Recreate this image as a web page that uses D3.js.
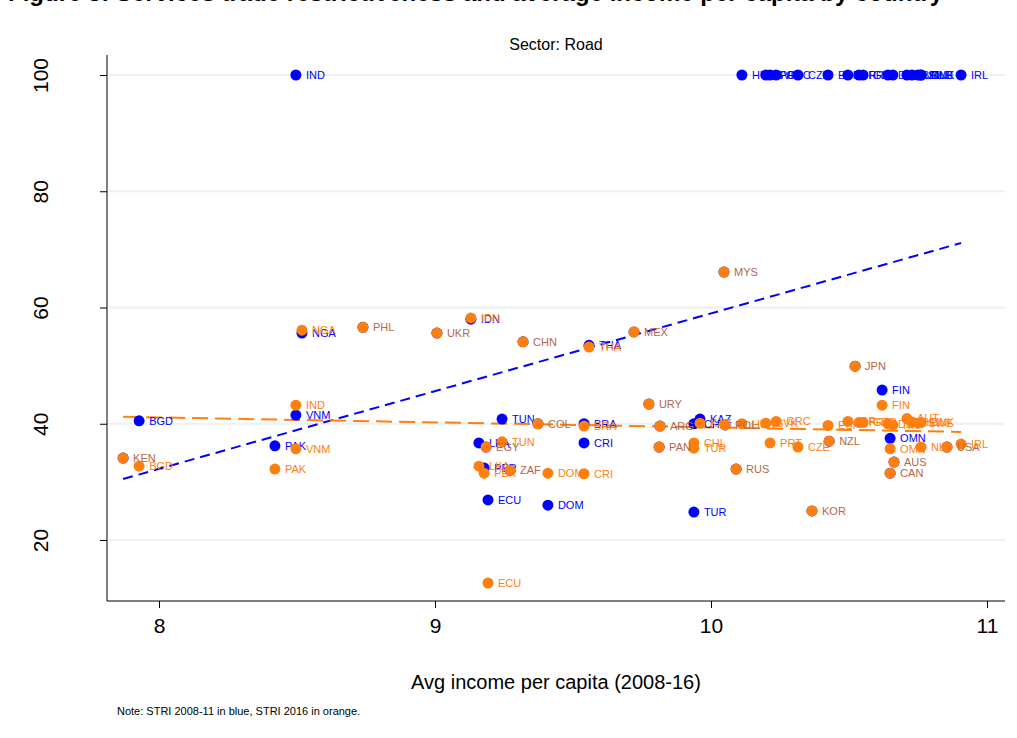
<!DOCTYPE html>
<html>
<head>
<meta charset="utf-8">
<script src="https://d3js.org/d3.v7.min.js"></script>
<style>
  body { margin: 0; background: #fff; }
  text { font-family: "Liberation Sans", Arial, sans-serif; }
</style>
</head>
<body>
<svg width="1017" height="738"></svg>
<script>
// country codes, avg log income (2008-16), STRI 2008-11, STRI 2016
var countries = ["KEN","BGD","PAK","VNM","IND","NGA","PHL","UKR","IDN","CHN","THA","MEX","MYS",
  "LKA","EGY","TUN","COL","BRA","CRI","PER","ZAF","DOM","ECU","URY","ARG","PAN","KAZ","CHL","TUR",
  "POL","HUN","SVK","PRT","GRC","CZE","RUS","KOR","NZL","ESP","ISR","FRA","GBR","JPN","FIN","OMN",
  "AUS","CAN","DEU","ITA","AUT","BEL","SWE","DNK","NLD","USA","IRL"];
var income = [7.870,7.928,8.420,8.496,8.496,8.518,8.739,9.007,9.130,9.319,9.558,9.721,10.047,
  9.159,9.185,9.243,9.373,9.540,9.540,9.178,9.272,9.409,9.192,9.775,9.815,9.812,9.960,9.938,9.938,
  10.051,10.112,10.199,10.214,10.236,10.315,10.091,10.366,10.428,10.424,10.496,10.536,10.551,10.522,10.620,10.649,
  10.663,10.649,10.641,10.659,10.710,10.728,10.750,10.761,10.761,10.855,10.906];
var stri2011 = [34.1,40.5,36.2,41.5,100,55.6,56.6,55.6,58.0,54.1,53.5,55.8,66.1,
  36.7,36.0,40.8,40.0,40.0,36.7,32.4,32.0,26.0,26.9,43.4,39.6,36.0,40.8,40.0,24.8,
  39.8,100,100,100,100,100,32.2,25.0,37.0,100,100,100,100,49.9,45.8,37.5,
  33.4,31.5,100,100,100,100,100,100,100,36.0,100];
var stri2016 = [34.1,32.7,32.2,35.7,43.2,56.1,56.6,55.6,58.2,54.1,53.2,55.8,66.1,
  32.7,36.0,36.9,40.0,39.6,31.4,31.5,32.0,31.5,12.6,43.4,39.6,36.0,40.1,36.7,35.8,
  39.8,40.0,40.1,36.7,40.4,36.0,32.2,25.0,37.0,39.7,40.4,40.2,40.2,49.9,43.2,35.7,
  33.4,31.5,40.0,39.8,40.9,40.3,40.1,40.2,36.0,36.0,36.5];
// fitted lines (endpoints)
var fitX = [7.87, 10.906];
var fit2011 = [30.5, 71.1];
var fit2016 = [41.2, 38.6];
var yTicks = [20, 40, 60, 80, 100];
var xTicks = [8, 9, 10, 11];

var blue = "#0000ff", orange = "#ff7f0e", both = "#b5654a";
var svg = d3.select("svg");
var x = d3.scaleLinear().domain([8, 11]).range([159, 987]);
var y = d3.scaleLinear().domain([20, 100]).range([540, 75]);

// title (cut off at top)
svg.append("text").attr("x", 8).attr("y", 1).attr("font-size", 24).attr("font-weight", "bold")
  .text("Figure 5: Services trade restrictiveness and average income per capita by country");

svg.append("text").attr("x", 556).attr("y", 50).attr("text-anchor", "middle").attr("font-size", 16)
  .text("Sector: Road");

// grid
svg.selectAll(".grid").data(yTicks).enter().append("line")
  .attr("x1", 108).attr("x2", 1005).attr("y1", y).attr("y2", y)
  .attr("stroke", "#eaf2f3").attr("stroke-width", 2);

// axes
var yAxis = svg.append("g").attr("transform", "translate(107,0)")
  .call(d3.axisLeft(y).tickValues(yTicks).tickSize(7));
yAxis.select(".domain").attr("d", "M0,55V601");
yAxis.selectAll(".tick text").each(function() {
  d3.select(this).attr("font-size", 21).attr("text-anchor", "middle")
    .attr("x", -66).attr("y", 0).attr("dy", "0.35em")
    .attr("transform", "rotate(-90,-66,0)");
});
var xAxis = svg.append("g").attr("transform", "translate(0,601)")
  .call(d3.axisBottom(x).tickValues(xTicks).tickFormat(d3.format("d")).tickSize(7).tickPadding(10));
xAxis.select(".domain").attr("d", "M107,0H1005");
xAxis.selectAll("text").attr("font-size", 21);
svg.selectAll(".domain, .tick line").attr("stroke", "#000");

// fit lines
var line = d3.line().x(function(d) { return x(d[0]); }).y(function(d) { return y(d[1]); });
svg.append("path").attr("d", line(d3.zip(fitX, fit2011))).attr("fill", "none")
  .attr("stroke", blue).attr("stroke-width", 2).attr("stroke-dasharray", "10,6");
svg.append("path").attr("d", line(d3.zip(fitX, fit2016))).attr("fill", "none")
  .attr("stroke", orange).attr("stroke-width", 2).attr("stroke-dasharray", "16,7");

var data = countries.map(function(c, i) {
  return { c: c, x: income[i], b: stri2011[i], o: stri2016[i], same: Math.abs(stri2011[i] - stri2016[i]) < 0.05 };
});

// 2008-11 points
svg.selectAll(".pb").data(data).enter().append("circle")
  .attr("cx", function(d) { return x(d.x); }).attr("cy", function(d) { return y(d.b); })
  .attr("r", 5.5).attr("fill", blue);
svg.selectAll(".lb").data(data.filter(function(d) { return !d.same; })).enter().append("text")
  .attr("x", function(d) { return x(d.x) + 10; }).attr("y", function(d) { return y(d.b); })
  .attr("dy", "0.35em").attr("font-size", 11).attr("fill", blue).text(function(d) { return d.c; });

// 2016 points
svg.selectAll(".po").data(data).enter().append("circle")
  .attr("cx", function(d) { return x(d.x); }).attr("cy", function(d) { return y(d.o); })
  .attr("r", 5.5).attr("fill", orange);
svg.selectAll(".lo").data(data).enter().append("text")
  .attr("x", function(d) { return x(d.x) + 10; }).attr("y", function(d) { return y(d.o); })
  .attr("dy", "0.35em").attr("font-size", 11)
  .attr("fill", function(d) { return d.same ? both : orange; }).text(function(d) { return d.c; });

svg.append("text").attr("x", 556).attr("y", 689).attr("text-anchor", "middle").attr("font-size", 20)
  .text("Avg income per capita (2008-16)");
svg.append("text").attr("x", 117).attr("y", 715).attr("font-size", 11)
  .text("Note: STRI 2008-11 in blue, STRI 2016 in orange.");
</script>
</body>
</html>
